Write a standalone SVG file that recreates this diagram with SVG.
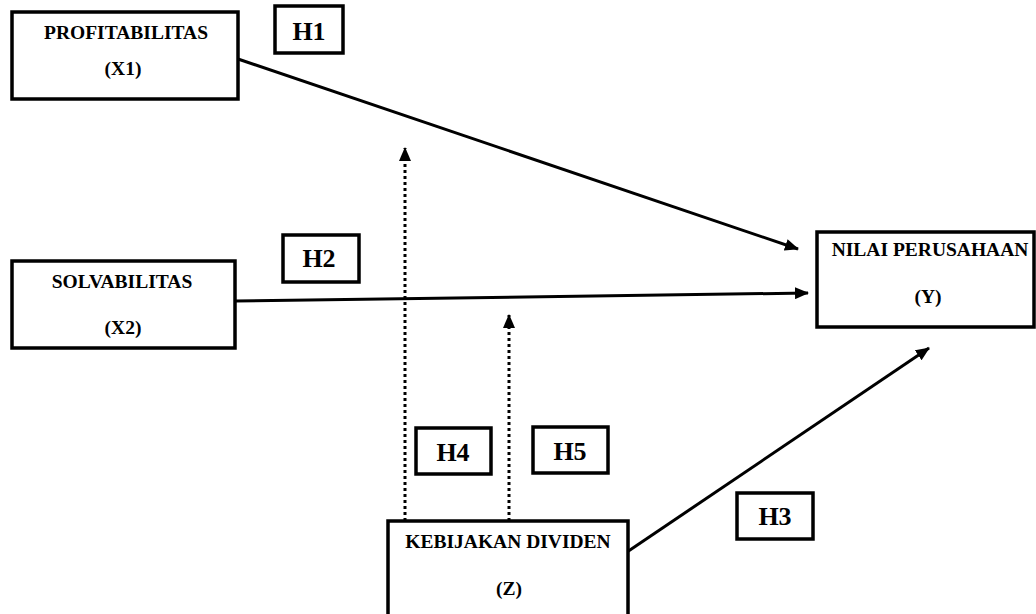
<svg xmlns="http://www.w3.org/2000/svg" width="1036" height="614" viewBox="0 0 1036 614">
<style>
.box{fill:#fff;stroke:#000;stroke-width:3.5}
.lbl{font-family:"Liberation Serif","Times New Roman",serif;font-weight:bold;font-size:19.5px;fill:#000;text-anchor:middle}
.h{font-family:"Liberation Serif","Times New Roman",serif;font-weight:bold;font-size:26px;fill:#000;text-anchor:middle}
.ln{fill:none;stroke:#000;stroke-width:3}
.dot{fill:none;stroke:#000;stroke-width:3;stroke-dasharray:3 3}
</style>
<defs>
<marker id="arr" markerUnits="userSpaceOnUse" markerWidth="14" markerHeight="12" refX="13" refY="6" orient="auto" viewBox="0 0 14 12">
<path d="M0,0 L14,6 L0,12 z" fill="#000"/>
</marker>
</defs>
<rect width="1036" height="614" fill="#fff"/>
<g id="connectors">
<line class="ln" x1="238" y1="59" x2="798" y2="249" marker-end="url(#arr)"/>
<line class="ln" x1="235" y1="301" x2="808" y2="293" marker-end="url(#arr)"/>
<line class="ln" x1="627" y1="552" x2="929" y2="348" marker-end="url(#arr)"/>
<line class="dot" x1="405" y1="521" x2="405" y2="148" marker-end="url(#arr)"/>
<line class="dot" x1="509" y1="521" x2="509" y2="315" marker-end="url(#arr)"/>
</g>
<g id="profitabilitas">
<rect class="box" x="12" y="12" width="226" height="87"/>
<text class="lbl" x="126" y="39">PROFITABILITAS</text>
<text class="lbl" x="123" y="75">(X1)</text>
</g>
<g id="solvabilitas">
<rect class="box" x="12" y="261" width="223" height="87"/>
<text class="lbl" x="122" y="288">SOLVABILITAS</text>
<text class="lbl" x="123" y="334">(X2)</text>
</g>
<g id="nilai">
<rect class="box" x="817" y="232" width="217" height="95"/>
<text class="lbl" x="930" y="256">NILAI PERUSAHAAN</text>
<text class="lbl" x="928" y="303">(Y)</text>
</g>
<g id="kebijakan">
<rect class="box" x="388" y="521" width="240" height="100"/>
<text class="lbl" x="508" y="548">KEBIJAKAN DIVIDEN</text>
<text class="lbl" x="509" y="595">(Z)</text>
</g>
<g id="h1"><rect class="box" x="275" y="6" width="68" height="47"/><text class="h" x="309" y="40">H1</text></g>
<g id="h2"><rect class="box" x="283" y="235" width="76" height="47"/><text class="h" x="319" y="267">H2</text></g>
<g id="h3"><rect class="box" x="737" y="493" width="76" height="46"/><text class="h" x="775" y="525">H3</text></g>
<g id="h4"><rect class="box" x="416" y="428" width="75" height="46"/><text class="h" x="453" y="461">H4</text></g>
<g id="h5"><rect class="box" x="533" y="427" width="75" height="46"/><text class="h" x="570" y="460">H5</text></g>
</svg>
